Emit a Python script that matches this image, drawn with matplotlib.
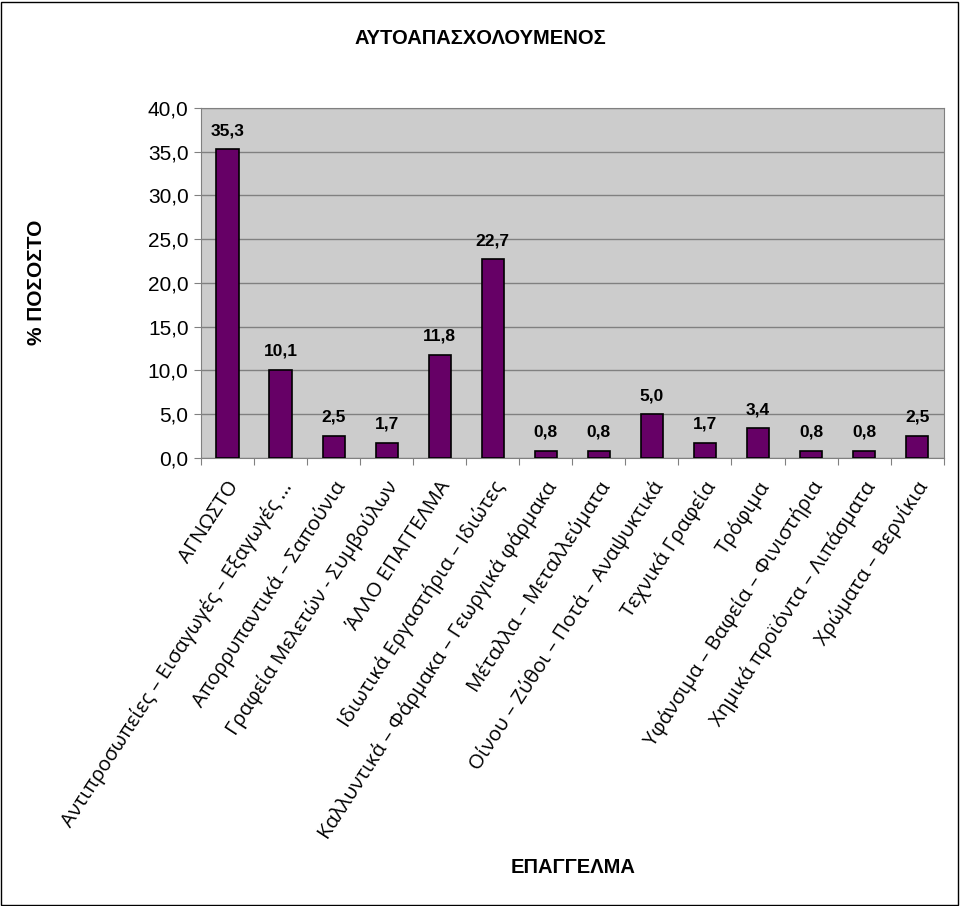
import matplotlib
matplotlib.use("Agg")
import matplotlib.pyplot as plt
from matplotlib.patches import Rectangle

categories = [
    "ΑΓΝΩΣΤΟ",
    "Αντιπροσωπείες – Εισαγωγές – Εξαγωγές ...",
    "Απορρυπαντικά – Σαπούνια",
    "Γραφεία Μελετών - Συμβούλων",
    "ΆΛΛΟ ΕΠΑΓΓΕΛΜΑ",
    "Ιδιωτικά Εργαστήρια – Ιδιώτες",
    "Καλλυντικά – Φάρμακα – Γεωργικά φάρμακα",
    "Μέταλλα – Μεταλλεύματα",
    "Οίνου – Ζύθοι – Ποτά – Αναψυκτικά",
    "Τεχνικά Γραφεία",
    "Τρόφιμα",
    "Υφάνσιμα – Βαφεία – Φινιστήρια",
    "Χημικά προϊόντα – Λιπάσματα",
    "Χρώματα – Βερνίκια",
]
values = [35.3, 10.1, 2.5, 1.7, 11.8, 22.7, 0.8, 0.8, 5.0, 1.7, 3.4, 0.8, 0.8, 2.5]
yticks = [0, 5, 10, 15, 20, 25, 30, 35, 40]

title = "ΑΥΤΟΑΠΑΣΧΟΛΟΥΜΕΝΟΣ"
xlabel = "ΕΠΑΓΓΕΛΜΑ"
ylabel = "% ΠΟΣΟΣΤΟ"

fig = plt.figure(figsize=(9.6, 9.06), dpi=100)
ax = fig.add_axes([0.2094, 0.4945, 0.7736, 0.3863])
ax.set_facecolor("#cccccc")

x = list(range(len(categories)))
ax.bar(x, values, width=0.42, color="#660066", edgecolor="black", linewidth=1.2, zorder=3)
ax.set_xlim(-0.5, len(categories) - 0.5)
ax.set_ylim(0, 40)
ax.set_yticks(yticks)
ax.set_yticklabels([f"{v:.1f}".replace(".", ",") for v in yticks],
                   fontsize=15, family="Liberation Sans")
ax.grid(axis="y", color="#808080", linewidth=1, zorder=1)

ax.set_xticks([i - 0.5 for i in range(len(categories) + 1)], minor=False)
ax.set_xticklabels([])
ax.tick_params(axis="x", length=5, color="#808080", direction="out")
ax.tick_params(axis="y", length=5, color="#808080", direction="out", pad=4)

for s in ax.spines.values():
    s.set_color("#808080")

for i, v in enumerate(values):
    ax.annotate(f"{v:.1f}".replace(".", ","), (i, v), xytext=(0, 8),
                textcoords="offset points", ha="center", va="bottom",
                fontsize=12.5, fontweight="bold", family="Liberation Sans")

for i, lab in enumerate(categories):
    ax.annotate(lab, (i, 0), xytext=(-1, -14), textcoords="offset points",
                ha="right", va="top", rotation=57, rotation_mode="anchor",
                fontsize=14.7, family="Open Sans", annotation_clip=False)

fig.text(0.5, 0.958, title, ha="center", va="center", fontsize=14.5,
         fontweight="bold", family="Liberation Sans")
fig.text(0.597, 0.042, xlabel, ha="center", va="center", fontsize=14.5,
         fontweight="bold", family="Liberation Sans")
fig.text(0.038, 0.688, ylabel, ha="center", va="center", rotation=90, fontsize=15,
         fontweight="bold", family="Liberation Sans")

fig.patches.append(Rectangle((0.001, 0.001), 0.997, 0.997, transform=fig.transFigure,
                             fill=False, edgecolor="black", linewidth=1))

fig.savefig("out.png", dpi=100)
